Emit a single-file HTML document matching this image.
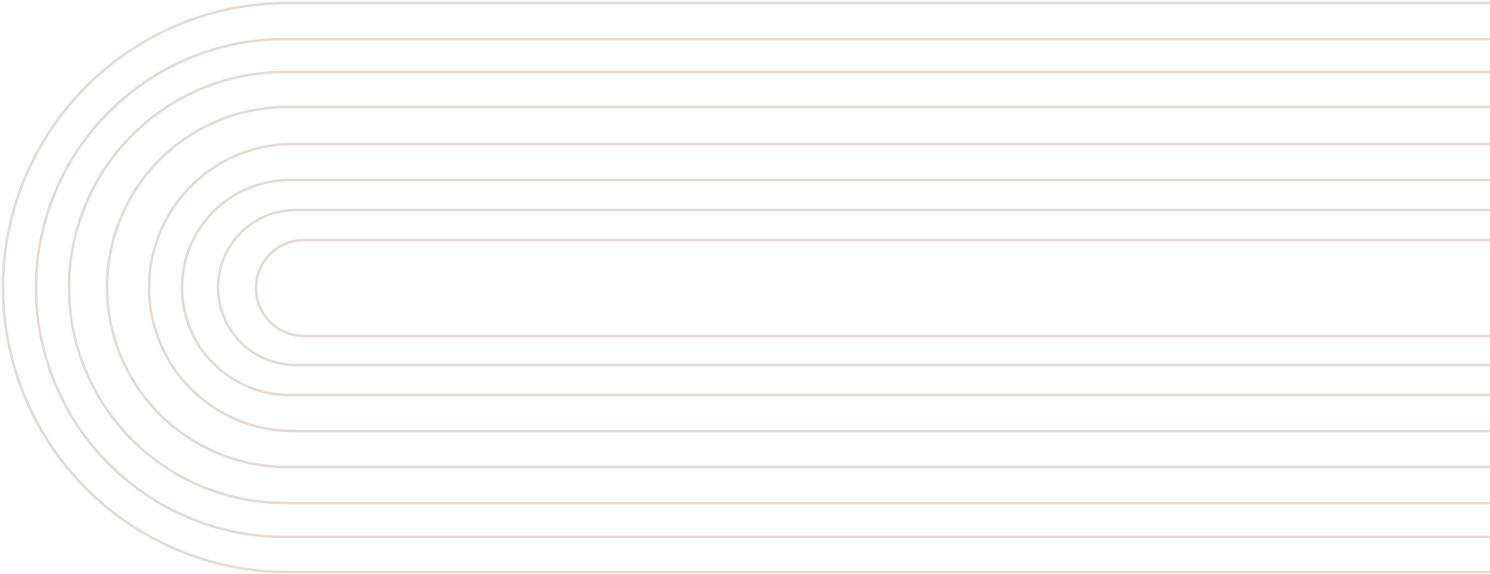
<!DOCTYPE html>
<html><head><meta charset="utf-8"><style>html,body{margin:0;padding:0;background:#fff;width:1490px;height:574px;overflow:hidden}</style></head>
<body>
<svg width="1490" height="574" viewBox="0 0 1490 574" xmlns="http://www.w3.org/2000/svg">
<g fill="none" stroke="#e4dbd6" stroke-width="2.6">
<path d="M1490 3 H287.5 A284.5 284.5 0 0 0 287.5 572 H1490"/>
<path d="M1490 39 H285 A249 249 0 0 0 285 537 H1490"/>
<path d="M1490 72 H284.5 A215.5 215.5 0 0 0 284.5 503 H1490"/>
<path d="M1490 107 H287 A180 180 0 0 0 287 467 H1490"/>
<path d="M1490 144 H292.5 A143.5 143.5 0 0 0 292.5 431 H1490"/>
<path d="M1490 180 H289.5 A107.5 107.5 0 0 0 289.5 395 H1490"/>
<path d="M1490 210 H295.5 A77.5 77.5 0 0 0 295.5 365 H1490"/>
<path d="M1490 240 H304 A48 48 0 0 0 304 336 H1490"/>
</g>
</svg>
</body></html>
